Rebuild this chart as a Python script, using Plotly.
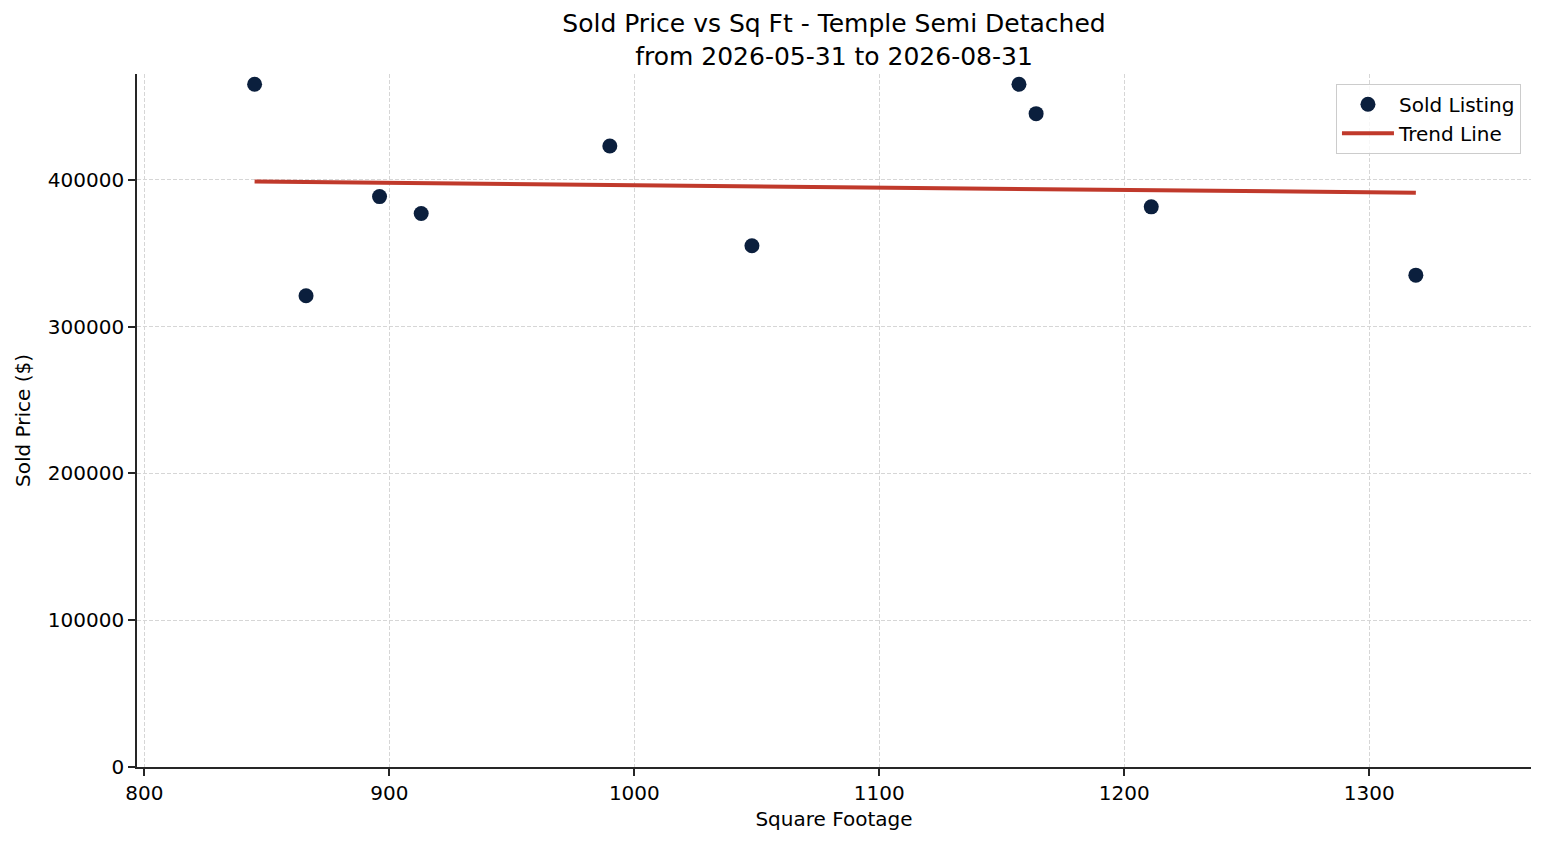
import numpy as np
import plotly.graph_objects as go

# sold listings
sqft = [845, 866, 896, 913, 990, 1048, 1157, 1164, 1211, 1319]
sold_price = [465000, 321000, 388500, 377000, 423000, 355000, 465000, 445000, 381500, 335000]

x_ticks = [800, 900, 1000, 1100, 1200, 1300]
y_ticks = [0, 100000, 200000, 300000, 400000]

title = "Sold Price vs Sq Ft - Temple Semi Detached<br>from 2026-05-31 to 2026-08-31"

# least squares trend line over the data span
slope, intercept = np.polyfit(sqft, sold_price, 1)
trend_x = [min(sqft), max(sqft)]
trend_y = [slope * v + intercept for v in trend_x]

font = "DejaVu Sans"
axis_color = "#262626"
grid_color = "#d6d6d6"

# the page body adds an 8px offset, so the figure is a bit smaller
W, H = 1539, 837

fig = go.Figure()

fig.add_trace(go.Scatter(
    x=sqft,
    y=sold_price,
    mode="markers",
    name="Sold Listing",
    marker=dict(size=15, color="#0b1f3d", line=dict(width=0)),
))

fig.add_trace(go.Scatter(
    x=trend_x,
    y=trend_y,
    mode="lines",
    name="Trend Line",
    line=dict(color="#c0392b", width=4),
))

fig.update_layout(
    width=W,
    height=H,
    paper_bgcolor="white",
    plot_bgcolor="white",
    font=dict(family=font, size=20, color="black"),
    margin=dict(l=129, r=16, t=66, b=78),
    title=dict(
        text=title,
        x=0.5,
        xref="paper",
        xanchor="center",
        y=1 - 24 / H,
        yanchor="middle",
        font=dict(family=font, size=25, color="black"),
    ),
    legend=dict(
        x=0.9928,
        y=0.986,
        xanchor="right",
        yanchor="top",
        bgcolor="rgba(255,255,255,0.8)",
        bordercolor="#cccccc",
        borderwidth=1,
        font=dict(family=font, size=20),
        itemwidth=52,
        tracegroupgap=0,
    ),
    showlegend=True,
)

fig.update_xaxes(
    range=[797, 1366],
    tickvals=x_ticks,
    tickformat="d",
    ticks="outside",
    ticklen=7,
    tickwidth=1.7,
    tickcolor=axis_color,
    showline=True,
    linecolor=axis_color,
    linewidth=1.7,
    showgrid=True,
    gridcolor=grid_color,
    griddash="4px,2px",
    gridwidth=1,
    zeroline=False,
    title=dict(text="Square Footage", font=dict(family=font, size=20), standoff=8),
    tickfont=dict(family=font, size=20),
)

fig.update_yaxes(
    range=[0, 472000],
    tickvals=y_ticks,
    tickformat="d",
    ticks="outside",
    ticklen=7,
    tickwidth=1.7,
    tickcolor=axis_color,
    showline=True,
    linecolor=axis_color,
    linewidth=1.7,
    showgrid=True,
    gridcolor=grid_color,
    griddash="4px,2px",
    gridwidth=1,
    zeroline=False,
    title=dict(text="Sold Price ($)", font=dict(family=font, size=20), standoff=12),
    tickfont=dict(family=font, size=20),
)

fig.write_html("out.html")
